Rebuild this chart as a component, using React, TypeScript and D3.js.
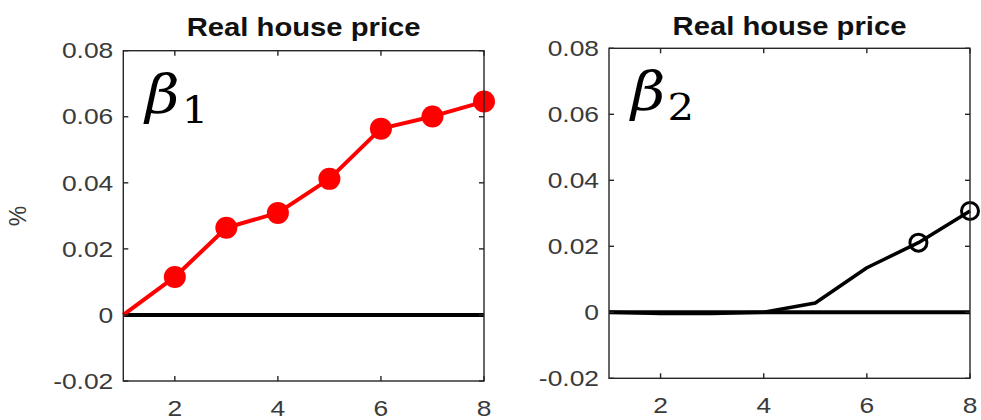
import React from "react";
import * as d3 from "d3";

const horizons = [1, 2, 3, 4, 5, 6, 7, 8];
const beta1Values = [0, 0.0115, 0.0264, 0.0309, 0.0412, 0.0564, 0.0601, 0.0646];
const beta1Markers = [2, 3, 4, 5, 6, 7, 8];
const beta2Values = [0, -0.0004, -0.0004, 0.0, 0.0028, 0.0135, 0.0211, 0.0307];
const beta2Markers = [7, 8];
const yTicks = [-0.02, 0, 0.02, 0.04, 0.06, 0.08];
const yTickLabels = ["-0.02", "0", "0.02", "0.04", "0.06", "0.08"];
const xTicks = [2, 4, 6, 8];
const xTickLabels = ["2", "4", "6", "8"];
const panelTitles = ["Real house price", "Real house price"];
const betaSubs = ["1", "2"];

const SX = 1.2; // horizontal stretch of the reference picture
const AXIS = "#262626";
const LABEL = "#3a3a3a";

type PanelProps = {
  left: number;
  right: number;
  top: number;
  bottom: number;
  values: number[];
  markers: number[];
  color: string;
  filled: boolean;
  title: string;
  sub: string;
  showYLabel: boolean;
  titleY: number;
};

function Panel(p: PanelProps) {
  const x = d3.scaleLinear().domain([1, 8]).range([p.left, p.right]);
  const y = d3.scaleLinear().domain([-0.02, 0.08]).range([p.bottom, p.top]);
  const line = d3
    .line<number>()
    .x((_, i) => x(horizons[i]))
    .y((d) => y(d));
  const tl = 5;
  return (
    <g>
      <rect x={p.left} y={p.top} width={p.right - p.left} height={p.bottom - p.top} fill="white" />
      {/* zero line */}
      <line x1={x(1)} x2={x(8)} y1={y(0)} y2={y(0)} stroke="#000" strokeWidth={4} />
      {/* series */}
      <path d={line(p.values) || ""} fill="none" stroke={p.color} strokeWidth={p.filled ? 4 : 3.5} strokeLinejoin="round" />
      {p.markers.map((h) => {
        const v = p.values[horizons.indexOf(h)];
        return p.filled ? (
          <circle key={h} cx={x(h)} cy={y(v)} r={11} fill={p.color} />
        ) : (
          <circle key={h} cx={x(h)} cy={y(v)} r={8.5} fill="none" stroke={p.color} strokeWidth={3} />
        );
      })}
      {/* box */}
      <rect x={p.left} y={p.top} width={p.right - p.left} height={p.bottom - p.top} fill="none" stroke={AXIS} strokeWidth={1.4} />
      {/* ticks */}
      {xTicks.map((t) => (
        <g key={"xt" + t}>
          <line x1={x(t)} x2={x(t)} y1={p.bottom} y2={p.bottom - tl} stroke={AXIS} strokeWidth={1.4} />
          <line x1={x(t)} x2={x(t)} y1={p.top} y2={p.top + tl} stroke={AXIS} strokeWidth={1.4} />
        </g>
      ))}
      {yTicks.map((t) => (
        <g key={"yt" + t}>
          <line x1={p.left} x2={p.left + tl} y1={y(t)} y2={y(t)} stroke={AXIS} strokeWidth={1.4} />
          <line x1={p.right} x2={p.right - tl} y1={y(t)} y2={y(t)} stroke={AXIS} strokeWidth={1.4} />
        </g>
      ))}
      {/* tick labels */}
      {yTicks.map((t, i) => (
        <g key={"yl" + t} transform={`translate(${p.left - 10},${y(t)}) scale(${SX},1)`}>
          <text x={0} y={0} dy="0.35em" textAnchor="end" fontFamily="'Liberation Sans', Arial, sans-serif" fontSize={22} fill={LABEL}>
            {yTickLabels[i]}
          </text>
        </g>
      ))}
      {xTicks.map((t, i) => (
        <g key={"xl" + t} transform={`translate(${x(t)},${p.bottom + 34.5}) scale(${SX},1)`}>
          <text x={0} y={0} textAnchor="middle" fontFamily="'Liberation Sans', Arial, sans-serif" fontSize={22} fill={LABEL}>
            {xTickLabels[i]}
          </text>
        </g>
      ))}
      {/* title */}
      <g transform={`translate(${(p.left + p.right) / 2},${p.titleY}) scale(1.17,1)`}>
        <text x={0} y={0} textAnchor="middle" fontFamily="'Liberation Sans', Arial, sans-serif" fontWeight="bold" fontSize={25} fill="#111">
          {p.title}
        </text>
      </g>
      {/* beta label */}
      <g transform={`translate(${p.left + 22},${p.top + 62}) scale(1.1,1)`}>
        <text x={0} y={0} fontFamily="'DejaVu Serif', 'Liberation Serif', serif" fontSize={54} fill="#000">
          <tspan fontStyle="italic">β</tspan>
          <tspan fontSize={38} dy={10} dx={2}>{p.sub}</tspan>
        </text>
      </g>
      {p.showYLabel && (
        <text
          transform={`translate(18,216) rotate(-90)`}
          textAnchor="middle"
          dy="0.35em"
          fontFamily="'Liberation Sans', Arial, sans-serif"
          fontSize={23}
          fill={LABEL}
        >
          %
        </text>
      )}
    </g>
  );
}

export default function App() {
  return (
    <div style={{ position: "absolute", left: 0, top: 0, width: 981, height: 420, background: "white" }}>
      <svg width={981} height={420} style={{ display: "block" }}>
        <rect x={0} y={0} width={981} height={420} fill="white" />
        <Panel
          left={123.3}
          right={484}
          top={50.7}
          bottom={381}
          values={beta1Values}
          markers={beta1Markers}
          color="#ff0000"
          filled={true}
          title={panelTitles[0]}
          sub={betaSubs[0]}
          showYLabel={true}
          titleY={36.3}
        />
        <Panel
          left={609}
          right={970}
          top={48.3}
          bottom={378.3}
          values={beta2Values}
          markers={beta2Markers}
          color="#000000"
          filled={false}
          title={panelTitles[1]}
          sub={betaSubs[1]}
          showYLabel={false}
          titleY={35}
        />
      </svg>
    </div>
  );
}
